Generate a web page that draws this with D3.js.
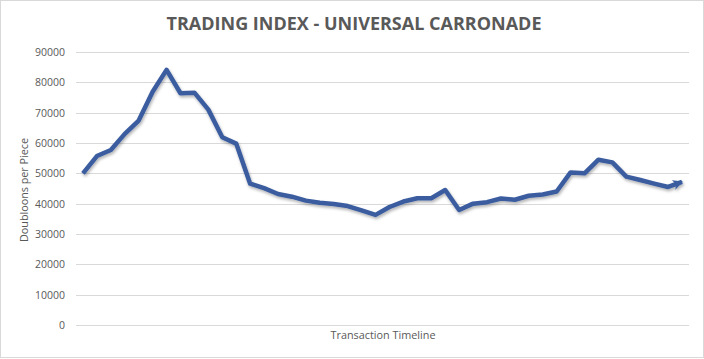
<!DOCTYPE html>
<html><head><meta charset="utf-8">
<script src="https://cdn.jsdelivr.net/npm/d3@7"></script>
<style>
html,body{margin:0;padding:0;background:#fff;}
svg{display:block;}
</style></head>
<body>
<script>
const title = "TRADING INDEX - UNIVERSAL CARRONADE";
const yTitle = "Doubloons per Piece";
const xTitle = "Transaction Timeline";
const yTicks = [0,10000,20000,30000,40000,50000,60000,70000,80000,90000];
const categories = d3.range(1,45);
const values = [50000,55700,57700,63000,67400,76900,84100,76400,76600,71000,
  61900,59800,46600,45100,43200,42300,41000,40300,39900,39200,
  37800,36300,38900,40700,41800,41800,44500,37900,40000,40500,
  41700,41300,42600,43000,44000,50300,50000,54500,53600,48900,
  47800,46600,45500,47200];

const W=704,H=359;
const m={left:76,right:15,top:52,bottom:34};
const svg=d3.select("body").append("svg").attr("width",W).attr("height",H);
svg.append("rect").attr("x",0.5).attr("y",0.5).attr("width",W-1).attr("height",H-2)
  .attr("fill","#fff").attr("stroke","#d9d9d9");

const defs=svg.append("defs");
const f=defs.append("filter").attr("id","sh").attr("x","-10%").attr("y","-10%").attr("width","120%").attr("height","130%");
f.append("feDropShadow").attr("dx",1).attr("dy",2).attr("stdDeviation",1.5).attr("flood-color","#000").attr("flood-opacity",0.3);
defs.append("marker").attr("id","arr").attr("markerUnits","userSpaceOnUse")
  .attr("viewBox","0 0 10 10").attr("refX",9).attr("refY",5)
  .attr("markerWidth",11).attr("markerHeight",10).attr("orient","auto")
  .append("path").attr("d","M0,0 L10,5 L0,10 L2.5,5 Z").attr("fill","#3a5da0");

const x=d3.scaleBand().domain(categories).range([m.left,W-m.right]);
const y=d3.scaleLinear().domain([0,90000]).range([325,m.top]);

const g=svg.append("g");
g.selectAll("line.grid").data(yTicks).join("line")
  .attr("x1",m.left).attr("x2",W-m.right)
  .attr("y1",d=>Math.round(y(d))+0.5).attr("y2",d=>Math.round(y(d))+0.5)
  .attr("stroke","#d9d9d9").attr("stroke-width",1);

const yAxis=d3.axisLeft(y).tickValues(yTicks).tickSize(0).tickPadding(0).tickFormat(d3.format("d"));
const ya=svg.append("g").attr("transform","translate(65,0)").call(yAxis);
ya.select(".domain").remove();
ya.selectAll("text").attr("font-family","'Open Sans',sans-serif").attr("font-size","10.5px").attr("fill","#595959");

svg.append("text").attr("x",354).attr("y",30).attr("text-anchor","middle")
  .attr("font-family","'Open Sans',sans-serif").attr("font-weight","bold").attr("font-size","18.5px")
  .attr("fill","#595959").attr("textLength",375).attr("lengthAdjust","spacingAndGlyphs").text(title);

svg.append("text").attr("transform","translate(28,190) rotate(-90)").attr("text-anchor","middle")
  .attr("font-family","'Open Sans',sans-serif").attr("font-size","11px").attr("fill","#595959")
  .attr("textLength",104).attr("lengthAdjust","spacingAndGlyphs").text(yTitle);

svg.append("text").attr("x",383).attr("y",339).attr("text-anchor","middle")
  .attr("font-family","'Open Sans',sans-serif").attr("font-size","11px").attr("fill","#595959")
  .attr("textLength",105).attr("lengthAdjust","spacingAndGlyphs").text(xTitle);

const line=d3.line().x((d,i)=>x(categories[i])+x.bandwidth()/2).y(d=>y(d));
svg.append("path").datum(values).attr("d",line)
  .attr("fill","none").attr("stroke","#3a5da0").attr("stroke-width",4.5)
  .attr("stroke-linejoin","round").attr("stroke-linecap","butt")
  .attr("marker-end","url(#arr)").attr("filter","url(#sh)");
</script>
</body></html>
